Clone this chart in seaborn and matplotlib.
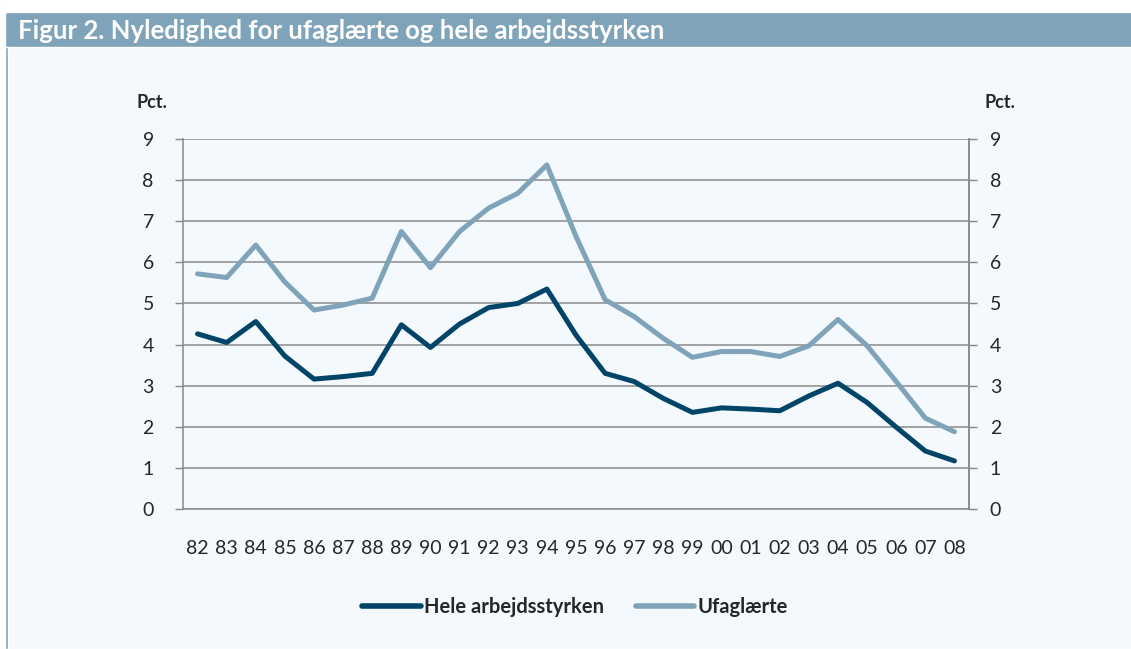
import pandas as pd
import seaborn as sns
import matplotlib.pyplot as plt
from matplotlib.patches import Rectangle

years = ["82", "83", "84", "85", "86", "87", "88", "89", "90", "91", "92", "93", "94",
         "95", "96", "97", "98", "99", "00", "01", "02", "03", "04", "05", "06", "07", "08"]
hele = [4.26, 4.05, 4.56, 3.72, 3.16, 3.22, 3.30, 4.48, 3.93, 4.50, 4.90, 5.00, 5.35,
        4.23, 3.30, 3.10, 2.69, 2.35, 2.46, 2.43, 2.39, 2.75, 3.06, 2.59, 1.99, 1.41, 1.17]
ufaglaerte = [5.72, 5.63, 6.42, 5.52, 4.84, 4.96, 5.13, 6.75, 5.87, 6.75, 7.32, 7.68, 8.37,
              6.63, 5.09, 4.68, 4.15, 3.69, 3.83, 3.83, 3.71, 3.97, 4.61, 3.97, 3.10, 2.21, 1.88]
series_names = ["Hele arbejdsstyrken", "Ufaglærte"]
colors = ["#004468", "#7fa3b8"]

sns.set_style("white")
plt.rcParams['font.family'] = ['Lato', 'DejaVu Sans']

df = pd.DataFrame({"x": list(range(len(years))) * 2,
                   "value": hele + ufaglaerte,
                   "serie": [series_names[0]] * len(years) + [series_names[1]] * len(years)})

bg = "#f4f9fd"
fig = plt.figure(figsize=(11.31, 6.49), dpi=100)
fig.patch.set_facecolor(bg)

# title bar + left border
fig.patches.append(Rectangle((0, 0), 1, 1, transform=fig.transFigure, facecolor="white", zorder=-3))
fig.patches.append(Rectangle((5/1131, 0), 1, 1 - 12/649, transform=fig.transFigure,
                             facecolor=bg, zorder=-2))
fig.patches.append(Rectangle((5/1131, 1 - 47/649), 1, 35/649, transform=fig.transFigure,
                             facecolor="#7fa3b8", zorder=-1))
fig.patches.append(Rectangle((5/1131, 0), 3/1131, 1 - 47/649, transform=fig.transFigure,
                             facecolor="#7fa3b8", zorder=-1))
fig.text(18/1131, 1 - 31/649, "Figur 2. Nyledighed for ufaglærte og hele arbejdsstyrken",
         color="white", fontsize=18.5, fontweight="bold", va="center", ha="left")

ax = fig.add_axes([183/1131, 1 - 509/649, 786/1131, 370/649])
ax.set_facecolor(bg)
sns.lineplot(data=df, x="x", y="value", hue="serie", palette=colors, linewidth=3.6,
             ax=ax, legend=False)
ax.set_xlim(-0.5, len(years) - 0.5)
ax.set_ylim(0, 9)
ax.set_yticks(range(0, 10))
ax.set_xticks(range(len(years)))
ax.set_xticklabels(years)
ax.set_xticks([i - 0.5 for i in range(len(years) + 1)], minor=True)
ax.tick_params(axis="x", which="major", length=0, pad=22, labelsize=14)
ax.tick_params(axis="x", which="minor", length=7, width=1, color="#888888", direction="out")
ax.tick_params(axis="y", length=6, width=1, color="#888888", direction="out", labelsize=14, pad=15)
ax.grid(axis="y", color="#8a8a8a", linewidth=1.1)
ax.set_axisbelow(True)
for s in ["top"]:
    ax.spines[s].set_visible(False)
for s in ["left", "right", "bottom"]:
    ax.spines[s].set_color("#888888")
    ax.spines[s].set_linewidth(1.1)
ax.set_xlabel("")
ax.set_ylabel("")

ax2 = ax.twinx()
ax2.set_ylim(0, 9)
ax2.set_yticks(range(0, 10))
ax2.tick_params(axis="y", length=6, width=1, color="#888888", direction="out", labelsize=14, pad=9)
for s in ["top", "left", "bottom"]:
    ax2.spines[s].set_visible(False)
ax2.spines["right"].set_color("#888888")
ax2.spines["right"].set_linewidth(1.1)

fig.text(137/1131, 1 - 102/649, "Pct.", fontsize=13, fontweight="bold", va="center", ha="left")
fig.text(985/1131, 1 - 102/649, "Pct.", fontsize=13, fontweight="bold", va="center", ha="left")

handles = [plt.Line2D([], [], color=c, linewidth=4, solid_capstyle="round") for c in colors]
fig.legend(handles, series_names, loc="center", bbox_to_anchor=(575/1131, 1 - 607/649),
           ncol=2, frameon=False, handlelength=2.9, handletextpad=0.15, columnspacing=1.6,
           prop={"weight": "bold", "size": 14.5})

fig.savefig("out.png", dpi=100, facecolor=fig.get_facecolor())
